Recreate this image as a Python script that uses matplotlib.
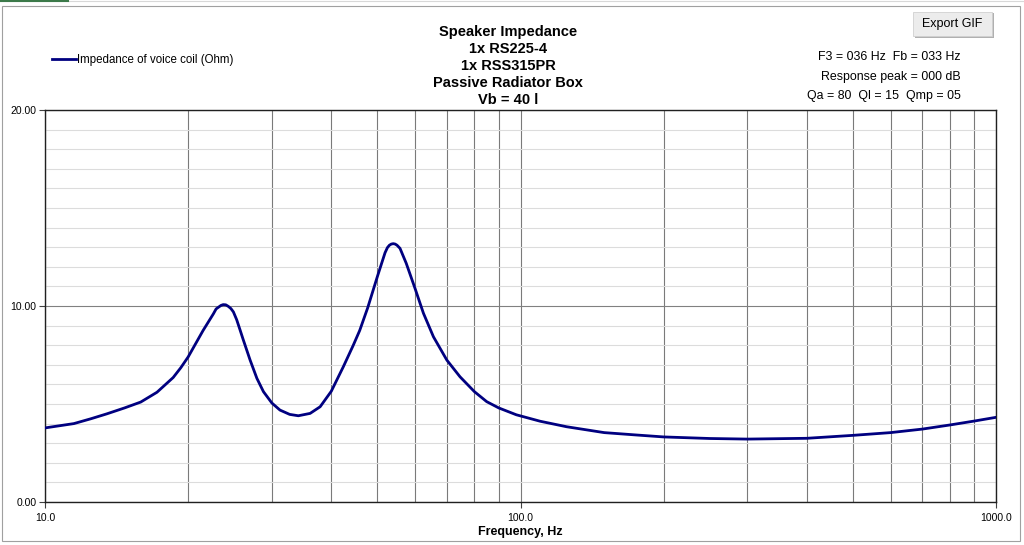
import numpy as np
import matplotlib
matplotlib.use('Agg')
import matplotlib.pyplot as plt
from matplotlib.patches import Rectangle
from matplotlib.ticker import FixedLocator, NullFormatter

plt.rcParams['font.family'] = ['Liberation Sans', 'DejaVu Sans']

# impedance curve
freq_hz = [10, 11.5, 12.5, 13.5, 14.7, 15.9, 17.2, 18.6, 19.3, 20, 21.5, 22.6, 22.9, 23.2,
           23.45, 23.7, 24.0, 24.3, 24.6, 24.9, 25.3, 25.7, 26.1, 27.0, 27.9, 28.8, 30,
           31.2, 32.7, 34.1, 36.1, 37.9, 40, 42.4, 44.5, 45.9, 47.7, 50, 51.9, 52.5, 53,
           53.5, 54, 54.5, 55, 55.8, 57.5, 60, 62.5, 65.6, 70, 74.6, 80, 84.9, 90, 98,
           110, 125, 150, 175, 200, 250, 300, 400, 500, 600, 700, 800, 900, 1000]
impedance_ohm = [3.78, 4.0, 4.25, 4.5, 4.8, 5.1, 5.6, 6.35, 6.85, 7.4, 8.75, 9.6, 9.85, 9.95,
                 10.03, 10.07, 10.06, 9.98, 9.87, 9.7, 9.3, 8.8, 8.3, 7.24, 6.31, 5.63, 5.05,
                 4.69, 4.47, 4.40, 4.52, 4.86, 5.65, 6.9, 8.0, 8.75, 9.9, 11.5, 12.72, 12.98, 13.1,
                 13.16, 13.18, 13.16, 13.1, 12.94, 12.18, 10.9, 9.63, 8.43, 7.24, 6.39, 5.63, 5.12, 4.8, 4.45,
                 4.12, 3.84, 3.54, 3.42, 3.32, 3.24, 3.21, 3.25, 3.40, 3.54, 3.72, 3.93, 4.13, 4.32]

title_lines = ['Speaker Impedance', '1x RS225-4', '1x RSS315PR', 'Passive Radiator Box', 'Vb = 40 l']
info_lines = ['F3 = 036 Hz  Fb = 033 Hz', 'Response peak = 000 dB', 'Qa = 80  Ql = 15  Qmp = 05']
series_label = 'Impedance of voice coil (Ohm)'

W, H = 1024, 545
fig = plt.figure(figsize=(W / 100, H / 100), dpi=100)
fig.patch.set_facecolor('white')

def fx(px):
    return px / W

def fy(py):
    return 1 - py / H

# chart area border and a bit of spreadsheet around it
fig.add_artist(Rectangle((fx(2), fy(541)), fx(1018), (539 - 4) / H, transform=fig.transFigure,
                         fill=False, edgecolor='#a0a0a0', lw=0.8))
fig.add_artist(plt.Line2D([0, 1], [fy(1), fy(1)], transform=fig.transFigure, color='#d8d8d8', lw=0.8))
fig.add_artist(plt.Line2D([0, fx(68)], [fy(0.7), fy(0.7)], transform=fig.transFigure, color='#3c7a4a', lw=1.5))

ax = fig.add_axes([fx(45), fy(502), fx(951), 392 / H])
ax.plot(freq_hz, impedance_ohm, color='#000080', lw=2.0, solid_capstyle='round',
        solid_joinstyle='round', zorder=5)

ax.set_xscale('log')
ax.set_xlim(10, 1000)
ax.set_ylim(0, 20)

ax.xaxis.set_major_locator(FixedLocator([10, 100, 1000]))
ax.xaxis.set_minor_locator(FixedLocator([20, 30, 40, 50, 60, 70, 80, 90,
                                         200, 300, 400, 500, 600, 700, 800, 900]))
ax.xaxis.set_minor_formatter(NullFormatter())
ax.set_xticklabels(['10.0', '100.0', '1000.0'])
ax.set_yticks([0, 10, 20])
ax.set_yticklabels(['0.00', '10.00', '20.00'])
ax.yaxis.set_minor_locator(FixedLocator(np.arange(1, 20)))

ax.grid(which='minor', axis='y', color='#dcdcdc', lw=0.8)
ax.grid(which='major', axis='y', color='#808080', lw=0.8)
ax.grid(which='both', axis='x', color='#7a7a7a', lw=0.8)
ax.tick_params(axis='both', which='major', labelsize=7.5, direction='out', length=4, width=0.8,
               color='#404040', pad=2)
ax.tick_params(axis='x', which='major', pad=4)
ax.tick_params(axis='both', which='minor', length=0)
for s in ax.spines.values():
    s.set_color('#202020')
    s.set_linewidth(1.0)

ax.set_xlabel('Frequency, Hz', fontsize=9, fontweight='bold', labelpad=2)

# title block
for i, t in enumerate(title_lines):
    fig.text(fx(508), fy(32 + 17 * i), t, ha='center', va='center', fontsize=10.5, fontweight='bold')

# info block at top right
for t, y in zip(info_lines, [57, 77, 96]):
    fig.text(fx(961), fy(y), t, ha='right', va='center', fontsize=8.9)

# legend
fig.add_artist(plt.Line2D([fx(52), fx(76)], [fy(59), fy(59)], transform=fig.transFigure,
                          color='#000080', lw=2.0))
fig.text(fx(77), fy(59.5), series_label, ha='left', va='center', fontsize=8.3)

# export button
fig.add_artist(Rectangle((fx(915), fy(38)), fx(79), 25 / H, transform=fig.transFigure,
                         facecolor='#b0b0b0', edgecolor='none'))
fig.add_artist(Rectangle((fx(913), fy(36)), fx(79), 24 / H, transform=fig.transFigure,
                         facecolor='#ececec', edgecolor='#d0d0d0', lw=0.6))
fig.text(fx(952), fy(24), 'Export GIF', ha='center', va='center', fontsize=9)

fig.savefig('out.png', dpi=100)
